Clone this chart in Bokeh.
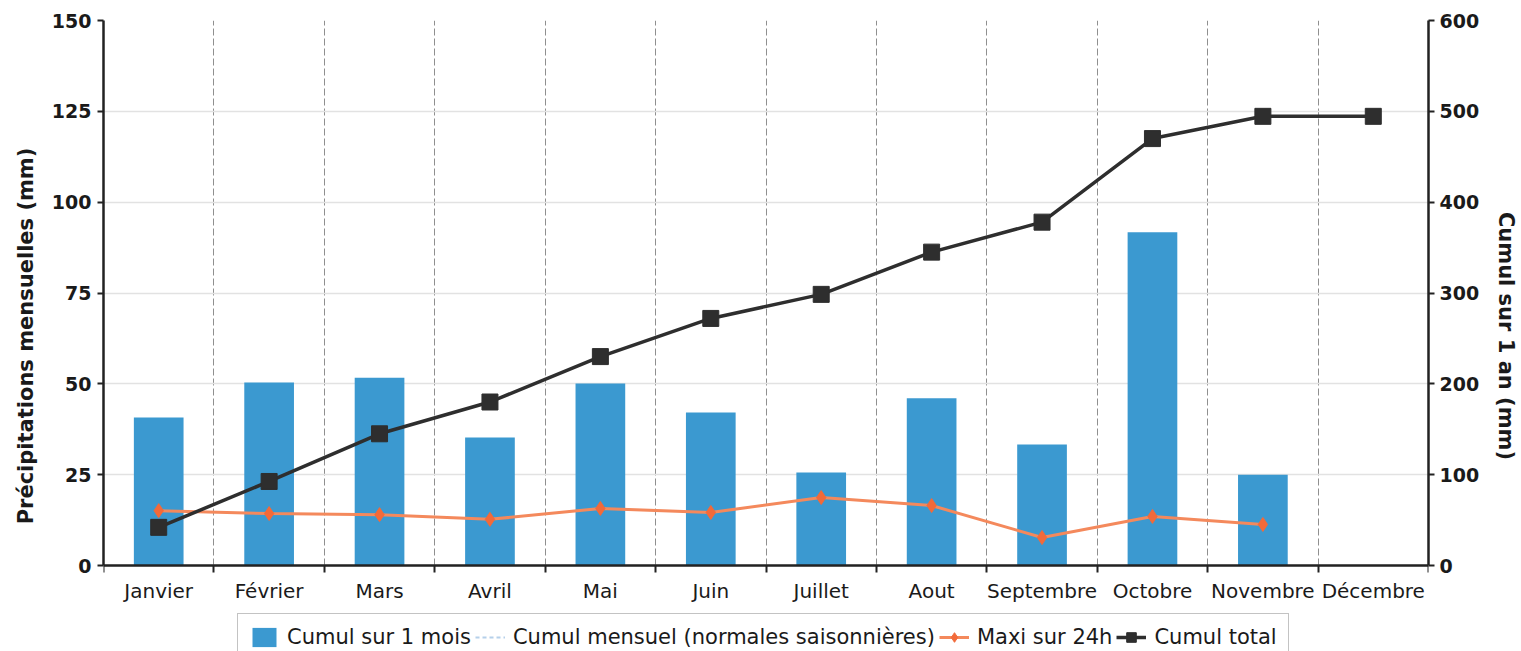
import numpy as np
from bokeh.plotting import figure
from bokeh.models import (Range1d, LinearAxis, FixedTicker, Legend, LegendItem,
                          ColumnDataSource, Title)
from bokeh.embed import file_html
from bokeh.resources import INLINE

months = ["Janvier", "Février", "Mars", "Avril", "Mai", "Juin", "Juillet",
          "Aout", "Septembre", "Octobre", "Novembre", "Décembre"]
cumul_mois = [40.7, 50.4, 51.7, 35.2, 50.1, 42.1, 25.6, 46.0, 33.3, 91.7, 25.0, None]
maxi_24h = [15.1, 14.3, 14.0, 12.7, 15.7, 14.6, 18.7, 16.5, 7.7, 13.5, 11.3, None]
cumul_total = [42, 92.5, 145, 180, 230, 272, 298.5, 345, 378, 470, 494.5, 494.5]
left_ticks = [0, 25, 50, 75, 100, 125, 150]
right_ticks = [0, 100, 200, 300, 400, 500, 600]

FONT = "DejaVu Sans"
W, H = 1521, 651
TOP, LEFT, RIGHT = 20, 103, 91
PLOT_PX = 545                      # pixel height of the 0..150 span
n = len(months)
centers = [i + 0.5 for i in range(n)]
bounds = list(range(n + 1))
ymax_l, ymax_r = left_ticks[-1], right_ticks[-1]
extra_px = H - TOP - PLOT_PX       # room below zero for month labels + legend
ymin_l = -extra_px / PLOT_PX * ymax_l
ymin_r = -extra_px / PLOT_PX * ymax_r

def clean(vals):
    return [np.nan if v is None else v for v in vals]

src = ColumnDataSource(dict(x=centers, mois=clean(cumul_mois), maxi=clean(maxi_24h),
                            total=cumul_total))

p = figure(width=W, height=H, output_backend="svg", toolbar_location=None,
           x_range=Range1d(0, n), y_range=Range1d(ymin_l, ymax_l),
           min_border_left=LEFT, min_border_right=RIGHT, min_border_top=TOP,
           min_border_bottom=0)
p.outline_line_color = None
p.extra_y_ranges = {"cumul": Range1d(ymin_r, ymax_r)}

bars = p.vbar(x="x", top="mois", bottom=0, width=0.45, source=src,
              fill_color="#3b99d0", line_color=None)
normales = p.line(x=[np.nan], y=[np.nan], line_color="#b5d0ea", line_width=2,
                  line_dash="4 3")
maxi_line = p.line(x="x", y="maxi", source=src, line_color="#f4895c", line_width=3)
maxi_pts = p.scatter(x="x", y="maxi", source=src, marker="diamond", size=14,
                     fill_color="#f26a3a", line_color="#f26a3a")
tot_line = p.line(x="x", y="total", source=src, y_range_name="cumul",
                  line_color="#2e2e2e", line_width=3.5)
tot_pts = p.scatter(x="x", y="total", source=src, y_range_name="cumul", marker="square",
                    size=16, fill_color="#2e2e2e", line_color="#2e2e2e")

# x axis: labels at centres, ticks at boundaries, pinned at y=0
xa = p.xaxis[0]
xa.fixed_location = 0
xa.ticker = FixedTicker(ticks=centers, minor_ticks=bounds)
xa.major_label_overrides = {c: m for c, m in zip(centers, months)}
xa.major_tick_out = 0
xa.major_tick_in = 0
xa.minor_tick_out = 7
xa.minor_tick_in = 0
xa.minor_tick_line_color = "#222222"
xa.minor_tick_line_width = 2
xa.axis_line_color = "#222222"
xa.axis_line_width = 2.5
xa.major_label_text_font = FONT
xa.major_label_text_font_size = "20px"
xa.major_label_text_color = "#1a1a1a"
xa.major_label_standoff = 6

def style_y(ax):
    ax.axis_label_text_font = FONT
    ax.axis_label_text_font_style = "bold"
    ax.axis_label_text_font_size = "21px"
    ax.axis_label_text_color = "#1a1a1a"
    ax.axis_label_standoff = 12
    ax.major_label_text_font = FONT
    ax.major_label_text_font_style = "bold"
    ax.major_label_text_font_size = "19px"
    ax.major_label_text_color = "#1a1a1a"
    ax.axis_line_color = "#222222"
    ax.axis_line_width = 2.5
    ax.major_tick_out = 6
    ax.major_tick_in = 0
    ax.minor_tick_line_color = None
    ax.major_tick_line_color = "#222222"
    ax.major_tick_line_width = 2

ya = p.yaxis[0]
ya.ticker = FixedTicker(ticks=left_ticks)
ya.bounds = (0, ymax_l)
style_y(ya)
ya.major_label_standoff = 6

ra = LinearAxis(y_range_name="cumul", ticker=FixedTicker(ticks=right_ticks),
                bounds=(0, ymax_r))
style_y(ra)
ra.axis_label = "Cumul sur 1 an (mm)"
p.add_layout(ra, "right")

ltitle = Title(text="Précipitations mensuelles (mm)", align="center",
               text_font=FONT, text_font_style="bold", text_font_size="21px",
               text_color="#1a1a1a", standoff=22)
p.add_layout(ltitle, "left")

p.xgrid.grid_line_color = None
p.xgrid.minor_grid_line_color = "#444444"
p.xgrid.minor_grid_line_alpha = 0.6
p.xgrid.minor_grid_line_dash = "7 3"
p.xgrid.cross_bounds = (0, ymax_l)
p.ygrid.grid_line_color = "#e2e2e2"
p.ygrid.grid_line_width = 1.5

legend = Legend(items=[
    LegendItem(label="Cumul sur 1 mois", renderers=[bars]),
    LegendItem(label="Cumul mensuel (normales saisonnières)", renderers=[normales]),
    LegendItem(label="Maxi sur 24h", renderers=[maxi_line, maxi_pts]),
    LegendItem(label="Cumul total", renderers=[tot_line, tot_pts]),
], orientation="horizontal", location=(134, -10))
legend.label_text_font = FONT
legend.label_text_font_size = "21px"
legend.label_text_color = "#1a1a1a"
legend.border_line_color = "#888888"
legend.border_line_width = 1.5
legend.spacing = 4
legend.glyph_width = 30
legend.glyph_height = 24
legend.label_standoff = 8
legend.padding = 11
legend.margin = 0
p.add_layout(legend, "center")

open("out.html", "w").write(file_html(p, INLINE))
